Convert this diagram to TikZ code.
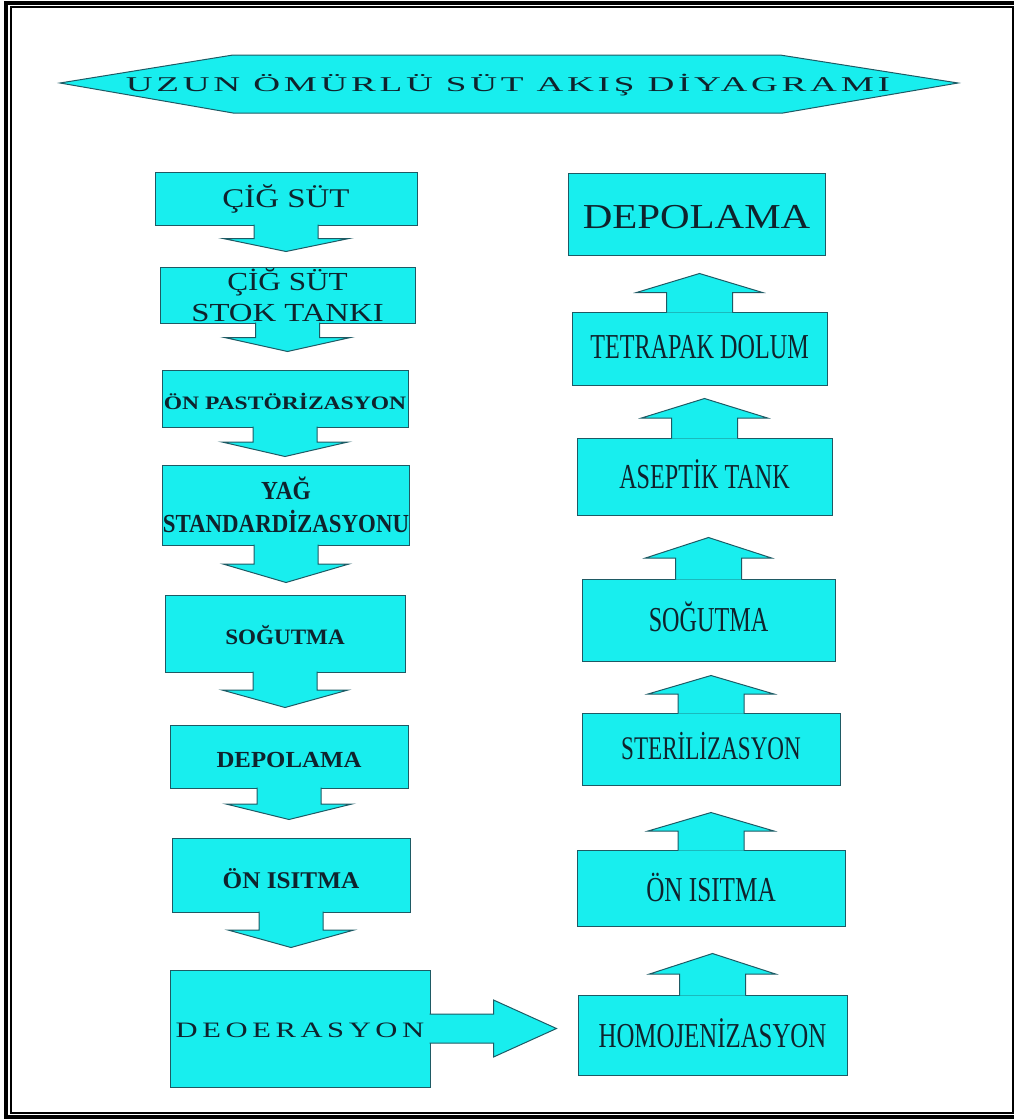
\documentclass[tikz,border=0pt]{standalone}
\usepackage{fontspec}
\setmainfont{Liberation Serif}
\usetikzlibrary{calc}

\definecolor{boxfill}{RGB}{24,238,238}
\definecolor{boxline}{RGB}{30,90,100}
\definecolor{ink}{RGB}{15,35,45}

\newcommand{\wid}[2]{\scalebox{#1}[1]{#2}}

\begin{document}
\begin{tikzpicture}[x=1pt,y=-1pt,
  box/.style={draw=boxline,fill=boxfill,line width=1pt,inner sep=0pt,text=ink,align=center},
  flow/.style={draw=boxline,fill=boxfill,line width=1pt,line join=miter},
  caps/.style={text height=#1,text depth=0pt}]
  \useasboundingbox (0,0) rectangle (1014,1119);

  % frame
  \draw[line width=4pt] (6,2.5) rectangle (1020,1117);
  \draw[line width=2pt] (11,7) rectangle (1012.5,1113);

  % title
  \draw[flow] (60,83) -- (233,55) -- (780,55) -- (958,83) -- (783,113) -- (233,113) -- cycle;
  \node[text=ink,font=\fontsize{21}{24}\selectfont\addfontfeature{LetterSpace=10}] (title) at (508,85)
    {\wid{1.77}{UZUN ÖMÜRLÜ SÜT AKIŞ DİYAGRAMI}};

  % left column
  \node[box,minimum width=262pt,minimum height=53pt,caps=18pt,font=\fontsize{27}{30}\selectfont] (L1) at (286,198.5) {\wid{1.22}{ÇİĞ SÜT}};
  \node[box,minimum width=255pt,minimum height=56pt,font=\fontsize{26}{31}\selectfont] (L2) at (287.5,295) {\wid{1.2}{ÇİĞ SÜT}\\\wid{1.26}{STOK TANKI}};
  \node[box,minimum width=246pt,minimum height=57pt,caps=21pt,font=\bfseries\fontsize{19}{22}\selectfont] (L3) at (285,398.5) {\wid{1.24}{ÖN PASTÖRİZASYON}};
  \node[box,minimum width=238pt,minimum height=80pt,font=\bfseries\fontsize{26}{33}\selectfont] (L4) at (286,505) {\wid{0.9}{YAĞ}\\\wid{0.88}{STANDARDİZASYONU}};
  \node[box,minimum width=240pt,minimum height=77pt,caps=22pt,font=\bfseries\fontsize{22}{25}\selectfont] (L5) at (285,633.5) {\wid{1.05}{SOĞUTMA}};
  \node[box,minimum width=238pt,minimum height=63pt,caps=22pt,font=\bfseries\fontsize{23}{26}\selectfont] (L6) at (289,756.5) {\wid{1.08}{DEPOLAMA}};
  \node[box,minimum width=238pt,minimum height=74pt,caps=26pt,font=\bfseries\fontsize{24}{27}\selectfont] (L7) at (291,875) {\wid{1.05}{ÖN ISITMA}};
  \node[box,minimum width=260pt,minimum height=117pt,caps=17pt,font=\fontsize{22}{25}\selectfont\addfontfeature{LetterSpace=15}] (L8) at (300,1028.5) {\wid{1.39}{DEOERASYON}};

  % right column
  \node[box,minimum width=257pt,minimum height=82pt,caps=28pt,font=\fontsize{35}{38}\selectfont] (R1) at (696.5,214) {\wid{1.17}{DEPOLAMA}};
  \node[box,minimum width=255pt,minimum height=73pt,caps=19pt,font=\fontsize{35}{38}\selectfont] (R2) at (699.5,348.5) {\wid{0.69}{TETRAPAK DOLUM}};
  \node[box,minimum width=255pt,minimum height=77pt,caps=23pt,font=\fontsize{35}{38}\selectfont] (R3) at (704.5,476.5) {\wid{0.69}{ASEPTİK TANK}};
  \node[box,minimum width=253pt,minimum height=82pt,caps=22pt,font=\fontsize{35}{38}\selectfont] (R4) at (708.5,620) {\wid{0.69}{SOĞUTMA}};
  \node[box,minimum width=258pt,minimum height=72pt,caps=20pt,font=\fontsize{33}{36}\selectfont] (R5) at (711,749) {\wid{0.7}{STERİLİZASYON}};
  \node[box,minimum width=268pt,minimum height=76pt,caps=26pt,font=\fontsize{35}{38}\selectfont] (R6) at (711,888) {\wid{0.72}{ÖN ISITMA}};
  \node[box,minimum width=269pt,minimum height=80pt,caps=24pt,font=\fontsize{35}{38}\selectfont] (R7) at (712.5,1035) {\wid{0.71}{HOMOJENİZASYON}};

  % block arrows down
  \foreach \a/\b/\g in {L1/L2/15,L2/L3/18,L3/L4/8,L4/L5/12,L5/L6/17,L6/L7/18,L7/L8/22}
    \path[flow] let \p1=(\a.south), \p2=(\b.north), \n1={(\y1+\y2+\g)/2} in
      (\x1-32,\y1+1) -- (\x1-32,\n1) -- (\x1-63,\n1) -- (\x1,\y2+\g)
      -- (\x1+63,\n1) -- (\x1+32,\n1) -- (\x1+32,\y1+1);

  % block arrows up
  \foreach \a/\b/\g in {R7/R6/27,R6/R5/27,R5/R4/14,R4/R3/22,R3/R2/13,R2/R1/18}
    \path[flow] let \p1=(\a.north), \p2=(\b.south), \n1={(\y1+\y2-\g)/2} in
      (\x1-33,\y1-1) -- (\x1-33,\n1) -- (\x1-63,\n1) -- (\x1,\y2-\g)
      -- (\x1+63,\n1) -- (\x1+33,\n1) -- (\x1+33,\y1-1);

  % across
  \path[flow] let \p1=(L8.east), \p2=(R7.west) in
    (\x1-1,\y1+14.5) -- (\x1+63,\y1+14.5) -- (\x1+63,\y1+28.5) -- (\x2-21,\y1)
    -- (\x1+63,\y1-28.5) -- (\x1+63,\y1-14.5) -- (\x1-1,\y1-14.5);
\end{tikzpicture}
\end{document}
